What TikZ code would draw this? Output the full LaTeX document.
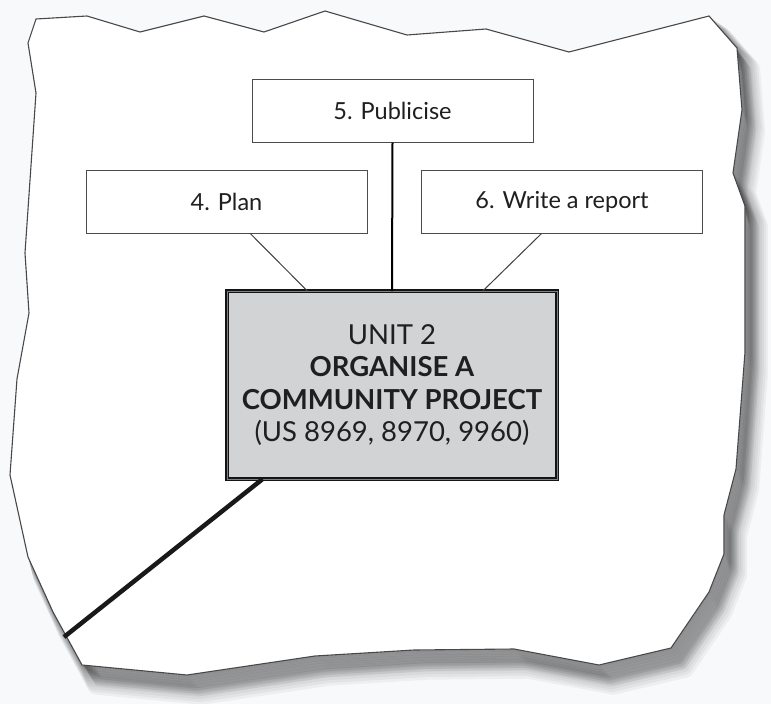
\documentclass[tikz,border=0pt]{standalone}
\usepackage{fontspec}
\setmainfont{Lato}
\usetikzlibrary{positioning}
\colorlet{penColor}{black!88}
\definecolor{paperEdge}{RGB}{72,72,74}
\definecolor{unitFill}{RGB}{209,211,212}
\definecolor{backColor}{RGB}{248,249,251}
\newcommand\paperline{(36,19) -- (87,16) -- (140,32) -- (204,16) -- (264,32) -- (325,11)
	-- (407,35) -- (486,29) -- (569,52) -- (709,16) -- (737,48) -- (742,110) -- (733,173)
	-- (745,206) -- (745,352) -- (736,469) -- (724,515) -- (724,554) -- (709,592) -- (671,648)
	-- (599,665) -- (514,649) -- (414,650) -- (315,656) -- (187,675) -- (82,665) -- (53,612)
	-- (28,557) -- (10,475) -- (17,379) -- (29,313) -- (25,253) -- (36,93) -- (28,43) -- cycle}
\tikzset{
	stepbox/.style={draw=black!70, line width=1pt, fill=white, inner sep=0pt, outer sep=0pt,
		minimum width=281pt, minimum height=63pt, text=penColor,
		font=\fontsize{23.5}{28}\selectfont},
	unitbox/.style={draw=black!92, line width=1.8pt, double=black!50, double distance=0.9pt,
		fill=unitFill, inner sep=0pt, outer sep=0pt, minimum width=330pt, minimum height=188pt,
		text=penColor, align=center, font=\fontsize{27.5}{32.5}\selectfont},
	link/.style={draw=black!75, line width=1pt}
}

\begin{document}
\begin{tikzpicture}[x=1pt,y=-1pt]
				\useasboundingbox (0,0) rectangle (771,704);
				\fill[backColor] (0,0) rectangle (771,704);
				\foreach \k in {1,...,11}
					\filldraw[black, opacity=.045, line width=1.6*\k pt, line join=round,
						shift={(1.3*\k,1.9*\k)}] \paperline;
				\filldraw[fill=white, draw=paperEdge, line width=1.1pt] \paperline;
				\node[stepbox] (pub) at (392.5,111) {5. Publicise};
				\node[stepbox] (plan) at (226.5,202) {4. Plan};
				\node[stepbox] (report) at (562,202) {6. Write a report};
				\node[unitbox] (unit) at (392,385) {UNIT 2\\ \textbf{ORGANISE A}\\ \textbf{COMMUNITY PROJECT}\\ (US 8969, 8970, 9960)};
				\coordinate (edge) at (64,637);
				\draw[link] (plan.-53.7) -- (unit.132.8);
				\draw[link] (report.-123.3) -- (unit.46.2);
				\draw[black, line width=2pt] (pub.south) -- (unit.north);
				\draw[black!90, line width=4.5pt] (unit.216.7) -- (edge);
				\end{tikzpicture}
\end{document}
